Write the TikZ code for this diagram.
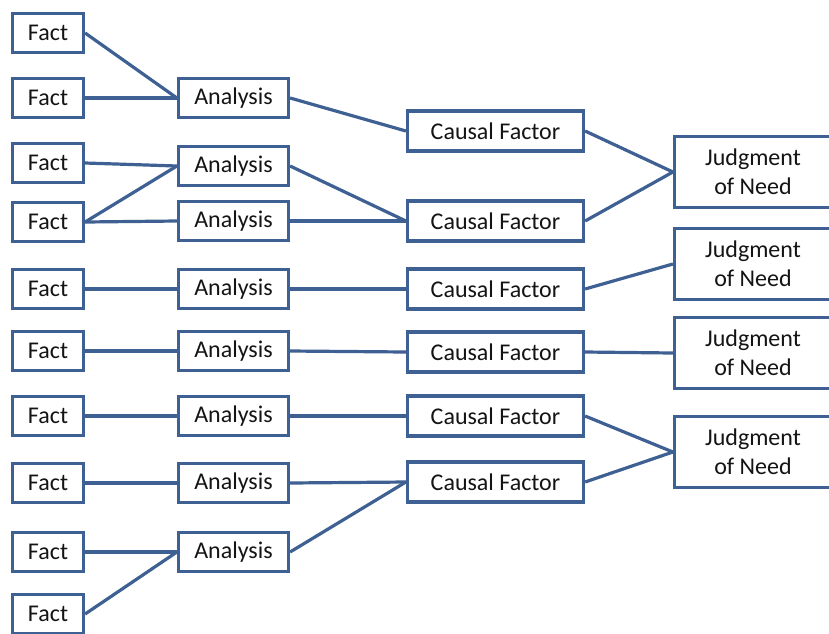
\documentclass[tikz,border=0pt]{standalone}
\usepackage{fontspec}
\setmainfont{Carlito}
\definecolor{boxblue}{RGB}{62,96,146}
\definecolor{inktext}{RGB}{20,20,20}
\begin{document}
\begin{tikzpicture}[x=1pt,y=-1pt,
  base/.style={draw=boxblue, line width=3.2pt, fill=white, inner sep=0pt,
    text=inktext, font=\fontsize{24}{29}\selectfont, align=center},
  fact/.style={base, minimum width=71pt, minimum height=39pt},
  analysis/.style={base, minimum width=110pt, minimum height=39pt},
  cause/.style={base, minimum width=176pt, minimum height=40pt},
  need/.style={base, minimum width=157pt, minimum height=71pt},
  link/.style={draw=boxblue, line width=3.2pt}]
\useasboundingbox (0,0) rectangle (829,633);

% facts
\node[fact] (f1)  at (48,33)  {Fact};
\node[fact] (f2)  at (48,98)  {Fact};
\node[fact] (f3)  at (48,163) {Fact};
\node[fact] (f4)  at (48,222) {Fact};
\node[fact] (f5)  at (48,289) {Fact};
\node[fact] (f6)  at (48,351) {Fact};
\node[fact] (f7)  at (48,416) {Fact};
\node[fact] (f8)  at (48,483) {Fact};
\node[fact] (f9)  at (48,552) {Fact};
\node[fact] (f10) at (48,614) {Fact};

% analyses
\node[analysis] (a1) at (233.5,98)  {Analysis};
\node[analysis] (a2) at (233.5,166) {Analysis};
\node[analysis] (a3) at (233.5,221) {Analysis};
\node[analysis] (a4) at (233.5,289) {Analysis};
\node[analysis] (a5) at (233.5,351) {Analysis};
\node[analysis] (a6) at (233.5,416) {Analysis};
\node[analysis] (a7) at (233.5,483) {Analysis};
\node[analysis] (a8) at (233.5,552) {Analysis};

% causal factors
\node[cause] (c1) at (495.5,131) {Causal Factor};
\node[cause] (c2) at (495.5,221) {Causal Factor};
\node[cause] (c3) at (495.5,289) {Causal Factor};
\node[cause] (c4) at (495.5,352) {Causal Factor};
\node[cause] (c5) at (495.5,416) {Causal Factor};
\node[cause] (c6) at (495.5,482) {Causal Factor};

% judgments of need
\node[need] (j1) at (753,172) {Judgment\\of Need};
\node[need] (j2) at (753,264) {Judgment\\of Need};
\node[need] (j3) at (753,353) {Judgment\\of Need};
\node[need] (j4) at (753,452) {Judgment\\of Need};

% facts to analyses
\draw[link] (f1.east) -- (a1.west);
\draw[link] (f2.east) -- (a1.west);
\draw[link] (f3.east) -- (a2.west);
\draw[link] (f4.east) -- (a2.west);
\draw[link] (f4.east) -- (a3.west);
\draw[link] (f5.east) -- (a4.west);
\draw[link] (f6.east) -- (a5.west);
\draw[link] (f7.east) -- (a6.west);
\draw[link] (f8.east) -- (a7.west);
\draw[link] (f9.east) -- (a8.west);
\draw[link] (f10.east) -- (a8.west);

% analyses to causal factors
\draw[link] (a1.east) -- (c1.west);
\draw[link] (a2.east) -- (c2.west);
\draw[link] (a3.east) -- (c2.west);
\draw[link] (a4.east) -- (c3.west);
\draw[link] (a5.east) -- (c4.west);
\draw[link] (a6.east) -- (c5.west);
\draw[link] (a7.east) -- (c6.west);
\draw[link] (a8.east) -- (c6.west);

% causal factors to judgments of need
\draw[link] (c1.east) -- (j1.west);
\draw[link] (c2.east) -- (j1.west);
\draw[link] (c3.east) -- (j2.west);
\draw[link] (c4.east) -- (j3.west);
\draw[link] (c5.east) -- (j4.west);
\draw[link] (c6.east) -- (j4.west);
\end{tikzpicture}
\end{document}
